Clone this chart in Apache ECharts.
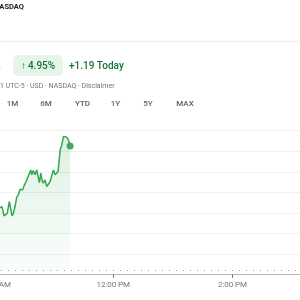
<!DOCTYPE html>
<html>
<head>
<meta charset="utf-8">
<script src="https://cdn.jsdelivr.net/npm/echarts@6/dist/echarts.min.js"></script>
<style>
  html, body { margin: 0; padding: 0; background: #fff; }
  #chart { width: 300px; height: 300px; }
</style>
</head>
<body>
<div id="chart"></div>
<script>
// minutes since midnight (10:00 AM = 600)
const times = [604, 606.0, 607.8, 608.8, 610.1, 612.1, 613.4, 615.4, 616.8, 618.2, 619.5, 621.2, 622.9,
  624.5, 626.2, 627.9, 628.9, 630.2, 632.3, 633.6, 635.3, 637.0, 638.0, 639.6, 641.3, 643.1,
  644.4, 645.7, 647.1, 648.4, 649.7, 651.4, 653.1, 654.8, 656.5, 658.2, 659.8, 661.5, 663.2,
  664.5, 666.6, 668.3, 669.9, 671.6, 673.3, 674.9, 676.6]
const prices = [24.64, 24.647, 24.662, 24.63, 24.572, 24.572, 24.598, 24.711, 24.72, 24.572, 24.598, 24.662, 24.753,
  24.776, 24.831, 24.85, 24.824, 24.863, 24.905, 24.938, 24.953, 25.018, 24.97, 25.012, 24.97, 25.018,
  24.953, 24.895, 24.986, 24.915, 24.889, 24.921, 24.856, 24.847, 24.905, 24.921, 25.018, 24.97, 24.953,
  25.002, 25.213, 25.261, 25.342, 25.358, 25.336, 25.31, 25.251]
const prevClose = 24.04
const rangeButtons = ['1M', '6M', 'YTD', '1Y', '5Y', 'MAX']
const rangeX = [12.5, 46, 82.5, 115.5, 148, 185]

const green = '#34a853'
const chart = echarts.init(document.getElementById('chart'))
const lineData = times.map((t, i) => [t, prices[i]])
const last = lineData[lineData.length - 1]

function fmtTime (v) {
  let h = Math.floor(v / 60)
  const m = Math.round(v % 60)
  const ap = h >= 12 ? 'PM' : 'AM'
  if (h > 12) h -= 12
  return h + ':' + (m < 10 ? '0' + m : m) + '\u2009' + ap
}

// header texts drawn as graphic elements
const graphics = [
  { type: 'text', left: -6, top: 3, style: { text: 'NASDAQ', fill: '#202124', font: '700 7.5px Roboto' } },
  { type: 'text', left: -2, top: 22, style: { text: '·', fill: '#9aa0a6', font: '8px Roboto' } },
  { type: 'rect', shape: { x: 0, y: 41, width: 300, height: 1 }, style: { fill: '#eceef0' } },
  { type: 'text', left: -2, top: 61, style: { text: '.', fill: '#202124', font: '700 10px Roboto' } },
  { type: 'rect', shape: { x: 13, y: 55, width: 50, height: 21, r: 5 }, style: { fill: '#e6f4ea' } },
  { type: 'text', x: 38, y: 66, style: { text: '\u2191\u20094.95%', fill: '#137333', font: '500 10px Roboto', align: 'center', verticalAlign: 'middle' } },
  { type: 'text', x: 69, y: 66, style: { text: '+1.19 Today', fill: '#137333', font: '500 10px Roboto', verticalAlign: 'middle' } },
  { type: 'text', x: 0, y: 86, style: { text: '1 UTC-5 · USD · NASDAQ · Disclaimer', fill: '#70757a', font: '7px Roboto', verticalAlign: 'middle' } }
]
rangeButtons.forEach((b, i) => {
  graphics.push({ type: 'text', x: rangeX[i], y: 104, style: { text: b, fill: '#5f6368', font: '500 8px Roboto', align: 'center', verticalAlign: 'middle' } })
})

const option = {
  animation: false,
  textStyle: { fontFamily: 'Roboto' },
  graphic: graphics,
  grid: { left: -6, right: 0, top: 110, bottom: 25.3, outerBoundsMode: 'none', containLabel: false },
  xAxis: {
    type: 'value',
    min: 600,
    max: 908,
    interval: 120,
    axisLine: { lineStyle: { color: '#b4b8bc', width: 1 } },
    axisTick: { length: 3, lineStyle: { color: '#5f6368' } },
    axisLabel: { color: '#70757a', fontSize: 8, margin: 6, formatter: fmtTime, showMaxLabel: false, hideOverlap: false },
    splitLine: { show: false }
  },
  yAxis: {
    type: 'value',
    min: 24.0,
    max: 25.6,
    interval: 0.2,
    axisLine: { show: false },
    axisTick: { show: false },
    axisLabel: { show: false },
    splitLine: {
      lineStyle: { color: ['#eef0f1', '#eef0f1', '#eef0f1', '#eef0f1', '#eef0f1', '#eef0f1', '#eef0f1', '#eef0f1', 'rgba(0,0,0,0)'], width: 1 }
    }
  },
  series: [
    {
      type: 'line',
      data: lineData,
      showSymbol: false,
      lineStyle: { color: green, width: 1.5 },
      areaStyle: {
        origin: 'start',
        color: new echarts.graphic.LinearGradient(0, 0, 0, 1, [
          { offset: 0, color: 'rgba(52,168,83,0.24)' },
          { offset: 1, color: 'rgba(52,168,83,0.02)' }
        ])
      },
      markLine: {
        silent: true,
        symbol: 'none',
        label: { show: false },
        lineStyle: { color: '#9aa0a6', width: 1, type: [1, 6] },
        data: [{ yAxis: prevClose }]
      }
    },
    {
      type: 'scatter',
      data: [last],
      symbolSize: 7,
      itemStyle: { color: '#1e8e3e' }
    }
  ]
}
chart.setOption(option)
</script>
</body>
</html>
